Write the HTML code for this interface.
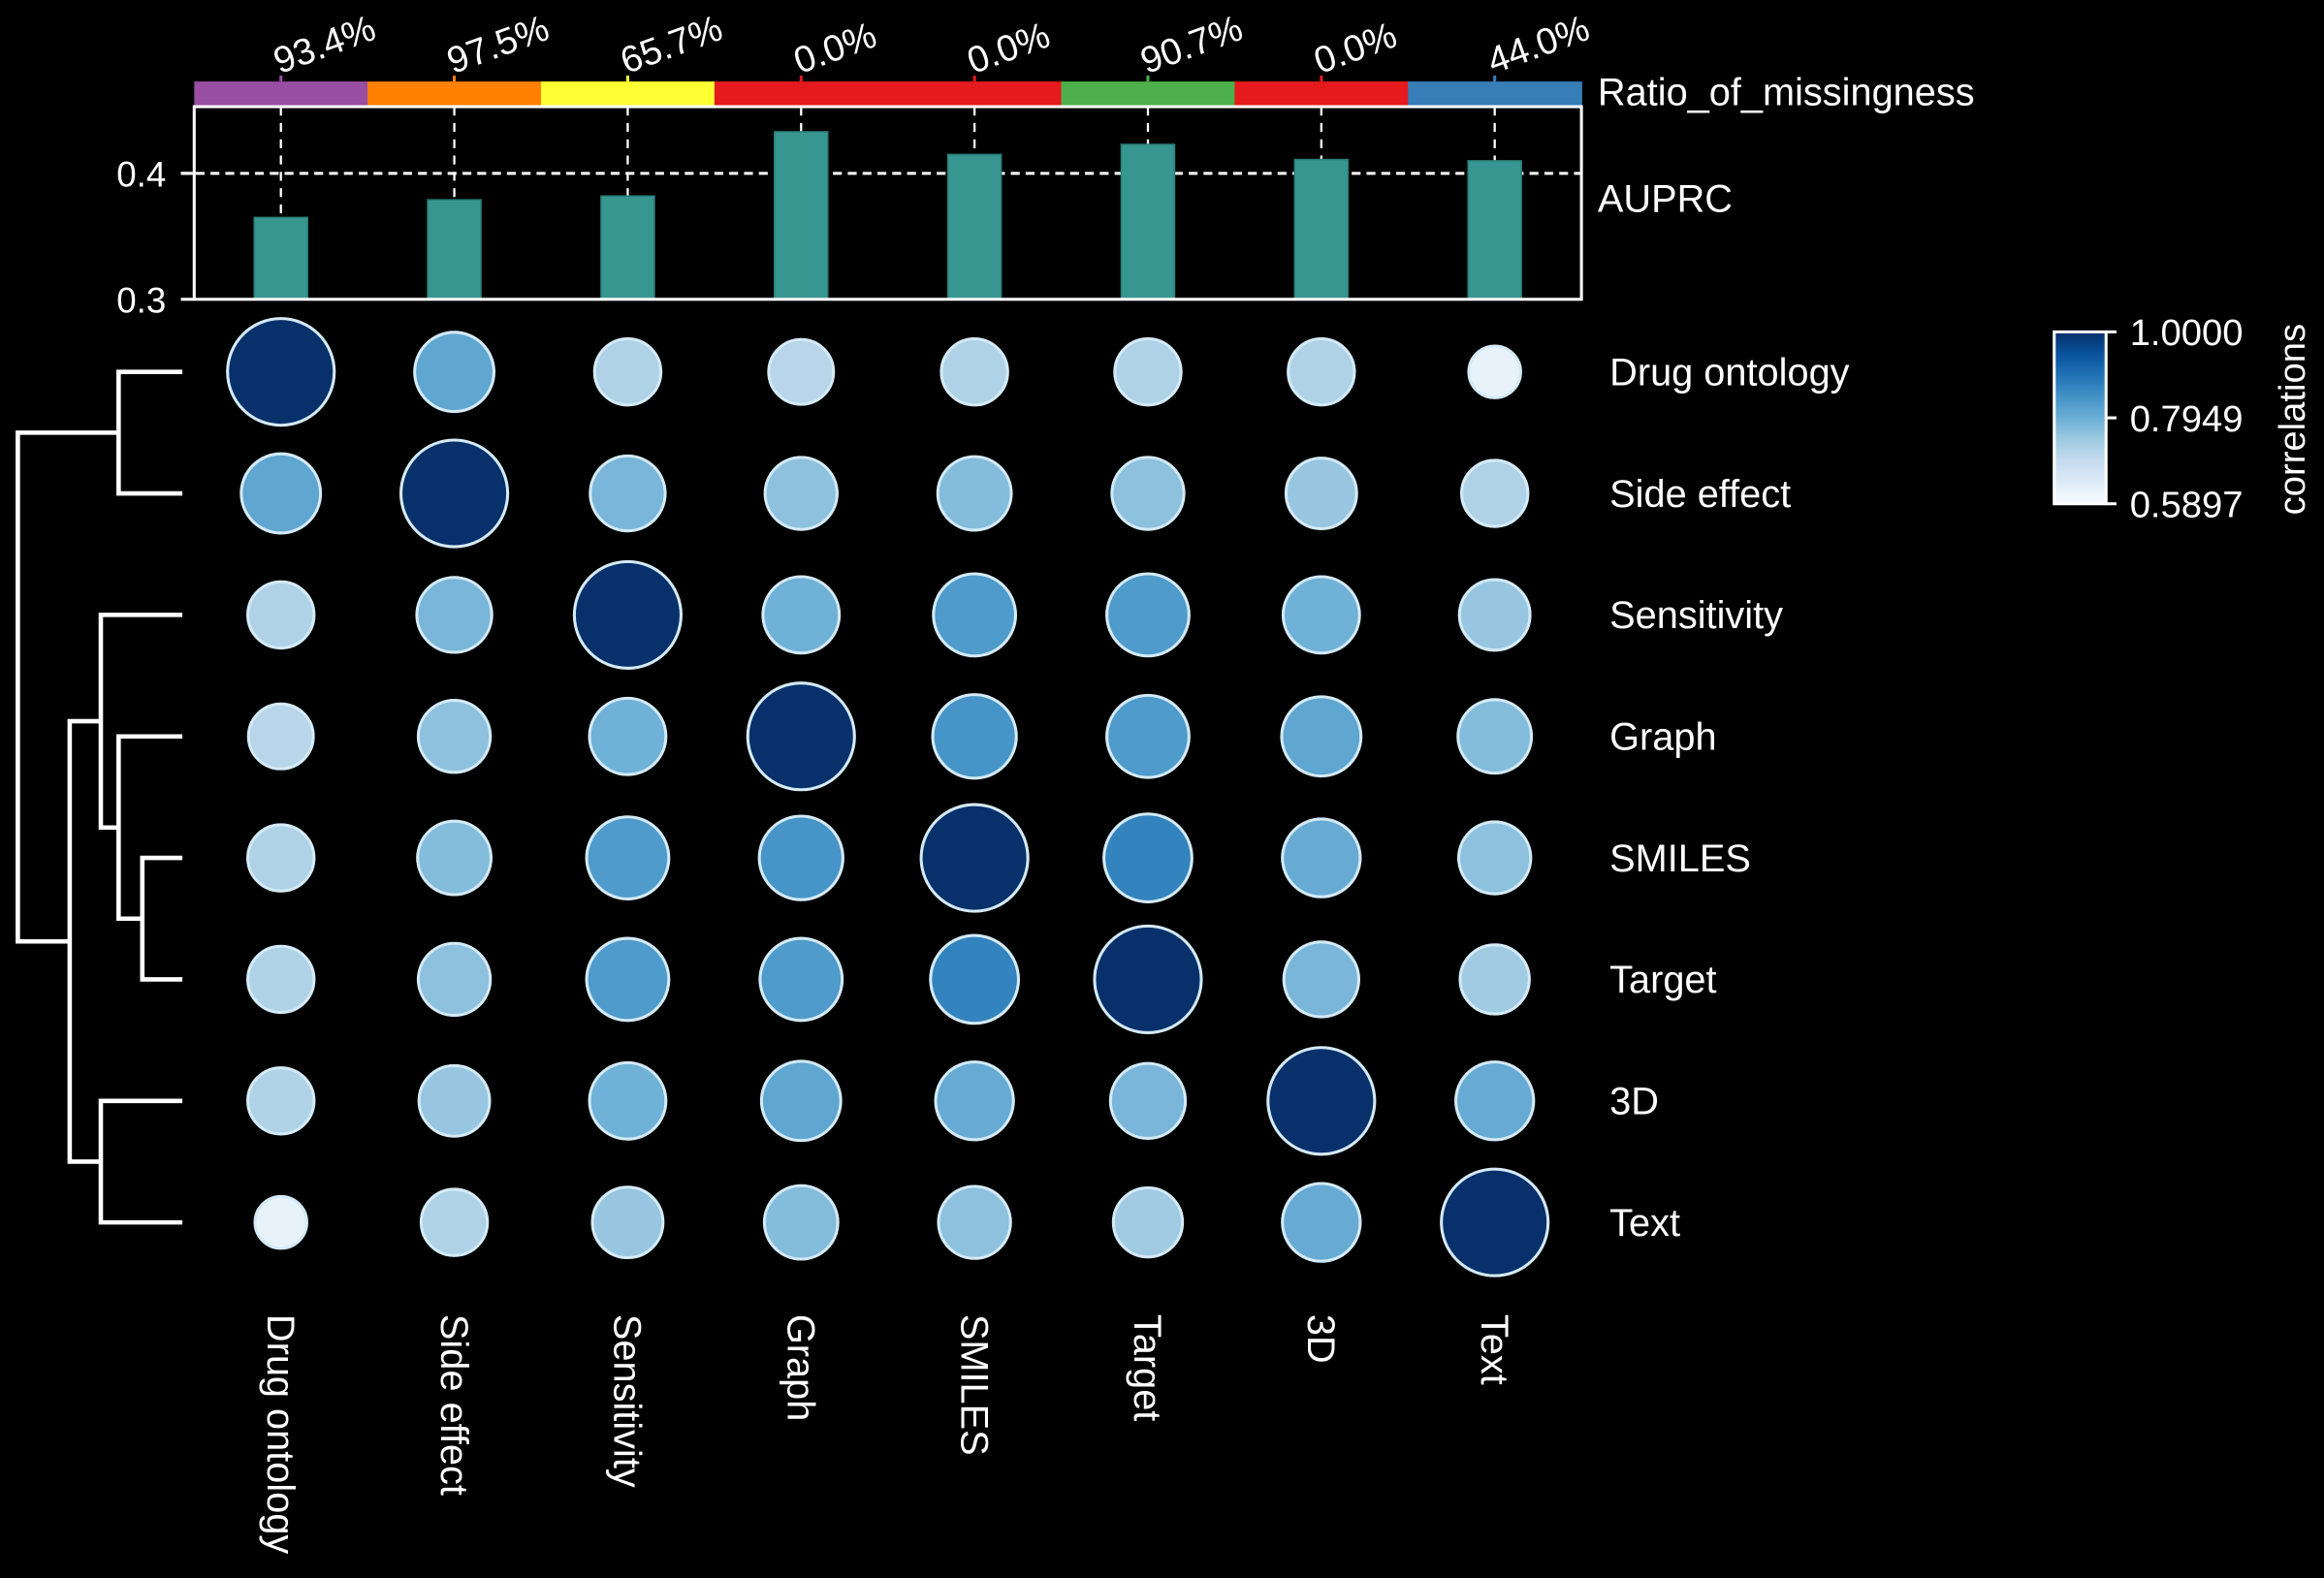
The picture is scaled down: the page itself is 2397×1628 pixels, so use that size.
<!DOCTYPE html>
<html><head><meta charset="utf-8"><style>
html,body{margin:0;padding:0;background:#000;}
svg{display:block;font-family:"Liberation Sans",Arial,sans-serif;}
</style></head><body>
<svg id="chart" width="2397" height="1628" viewBox="0 0 1568 1065" xmlns="http://www.w3.org/2000/svg">
<rect width="1568" height="1065" fill="#000"/>
<g id="dendro" stroke="#fff" stroke-width="3" fill="none"></g>
<g id="topstrip"></g>
<g id="bars"></g>
<g id="dots"></g>
<g id="labels"></g>
<g id="cbar"></g>
</svg>
<script>
const categories = ["Drug ontology","Side effect","Sensitivity","Graph","SMILES","Target","3D","Text"];
const missingness = ["93.4%","97.5%","65.7%","0.0%","0.0%","90.7%","0.0%","44.0%"];
const missColors = ["#984ea3","#ff7f00","#ffff33","#e41a1c","#e41a1c","#4daf4a","#e41a1c","#377eb8"];
const auprc = [0.365,0.379,0.382,0.433,0.415,0.423,0.411,0.410];
const auprcTicks = [0.3,0.4];
const corrDO    = [1.00,0.81,0.72,0.71,0.72,0.72,0.72,0.62];
const corrSE    = [0.81,1.00,0.78,0.76,0.77,0.76,0.75,0.72];
const corrSens  = [0.72,0.78,1.00,0.79,0.83,0.83,0.79,0.75];
const corrGraph = [0.71,0.76,0.79,1.00,0.84,0.83,0.81,0.77];
const corrSMILES= [0.72,0.77,0.83,0.84,1.00,0.87,0.80,0.76];
const corrTarget= [0.72,0.76,0.83,0.83,0.87,1.00,0.78,0.74];
const corr3D    = [0.72,0.75,0.79,0.81,0.80,0.78,1.00,0.80];
const corrText  = [0.62,0.72,0.75,0.77,0.76,0.74,0.80,1.00];
const colorbarTicks = ["1.0000","0.7949","0.5897"];
const cmin = 0.5897, cmax = 1.0;

const NS="http://www.w3.org/2000/svg";
function mk(tag,attrs,parent,text){const e=document.createElementNS(NS,tag);for(const k in attrs)e.setAttribute(k,attrs[k]);if(text!==undefined)e.textContent=text;parent.appendChild(e);return e;}
const X0=131, CW=(1067-131)/8;
const colX=i=>X0+CW*(i+0.5);
const rowY=i=>251+82*i;
const yB=v=>202-(v-0.3)/0.1*85;
const stops=["#f7fbff","#deebf7","#c6dbef","#9ecae1","#6baed6","#4292c6","#2171b5","#08519c","#08306b"];
function hex(h){return [1,3,5].map(i=>parseInt(h.substr(i,2),16));}
function cmap(v){let t=Math.max(0,Math.min(1,(v-cmin)/(cmax-cmin)))*8;let i=Math.min(7,Math.floor(t));let f=t-i;const a=hex(stops[i]),b=hex(stops[i+1]);return "rgb("+a.map((x,k)=>Math.round(x+(b[k]-x)*f)).join(",")+")";}
const rad=v=>16+(v-cmin)/(cmax-cmin)*20;

// top missingness strip
const topG=document.getElementById('topstrip');
categories.forEach((c,i)=>{
  let r=mk('rect',{x:X0+CW*i,y:55,width:CW+0.5,height:17,fill:missColors[i]},topG);
  
  
  mk('line',{x1:colX(i),y1:51,x2:colX(i),y2:55,stroke:missColors[i],'stroke-width':2},topG);
  let t=mk('text',{x:colX(i)-1,y:50,fill:'#fff','font-size':25,transform:`rotate(-20 ${colX(i)-1} 50)`},topG,missingness[i]);
  
  
});
let rt=mk('text',{x:1078,y:71,fill:'#fff','font-size':26},topG,"Ratio_of_missingness");



// bars
const barsG=document.getElementById('bars');
mk('line',{x1:122,y1:117,x2:1067,y2:117,stroke:'#fff','stroke-width':2,'stroke-dasharray':'6,4'},barsG);
auprc.forEach((v,i)=>{
  mk('line',{x1:colX(i),y1:72,x2:colX(i),y2:yB(v),stroke:'#fff','stroke-width':1.5,'stroke-dasharray':'6,5'},barsG);
  let b=mk('rect',{x:colX(i)-18,y:yB(v),width:36,height:202-yB(v),fill:'#379790',stroke:'#2a7d77','stroke-width':1},barsG);
  
  
});
mk('rect',{x:131,y:72,width:936,height:130,fill:'none',stroke:'#fff','stroke-width':2},barsG);
auprcTicks.forEach(v=>{
  mk('line',{x1:122,y1:yB(v),x2:131,y2:yB(v),stroke:'#fff','stroke-width':2},barsG);
  let t=mk('text',{x:112,y:yB(v)+9,fill:'#fff','font-size':24,'text-anchor':'end'},barsG,v.toFixed(1));
  
  
});
let at=mk('text',{x:1078,y:143,fill:'#fff','font-size':26},barsG,"AUPRC");



// dots
const matrix=[corrDO,corrSE,corrSens,corrGraph,corrSMILES,corrTarget,corr3D,corrText];
const dotsG=document.getElementById('dots');
matrix.forEach((row,r)=>row.forEach((v,c)=>{
  let e=mk('circle',{cx:colX(c),cy:rowY(r),r:rad(v),fill:cmap(v),stroke:'#d4eaf6','stroke-width':2},dotsG);
  
  
}));

// labels
const labelsG=document.getElementById('labels');
categories.forEach((c,i)=>{
  let t=mk('text',{x:1086,y:rowY(i)+9,fill:'#fff','font-size':26},labelsG,c);
  
  
  let u=mk('text',{x:colX(i)-9,y:887,fill:'#fff','font-size':26,transform:`rotate(90 ${colX(i)-9} 887)`},labelsG,c);
  
  
});

// dendrogram
const dG=document.getElementById('dendro');
const L=123;
function seg(pts){mk('polyline',{points:pts.map(p=>p.join(',')).join(' ')},dG);}
seg([[L,rowY(0)],[80,rowY(0)],[80,rowY(1)],[L,rowY(1)]]);
seg([[L,rowY(4)],[96,rowY(4)],[96,rowY(5)],[L,rowY(5)]]);
const m45=(rowY(4)+rowY(5))/2;
seg([[L,rowY(3)],[80,rowY(3)],[80,m45],[96,m45]]);
const m345=(rowY(3)+m45)/2;
seg([[L,rowY(2)],[68,rowY(2)],[68,m345],[80,m345]]);
const m2=(rowY(2)+m345)/2;
seg([[L,rowY(6)],[68,rowY(6)],[68,rowY(7)],[L,rowY(7)]]);
const m67=(rowY(6)+rowY(7))/2;
seg([[68,m2],[47,m2],[47,m67],[68,m67]]);
const mB=(m2+m67)/2, m01=(rowY(0)+rowY(1))/2;
seg([[80,m01],[12,m01],[12,mB],[47,mB]]);

// colorbar
const cbG=document.getElementById('cbar');
const defs=mk('defs',{},cbG);
const grad=mk('linearGradient',{id:'bl',x1:0,y1:1,x2:0,y2:0},defs);
stops.forEach((s,i)=>mk('stop',{offset:i/8,'stop-color':s},grad));
mk('rect',{x:1386,y:224,width:35,height:116,fill:'url(#bl)',stroke:'#fff','stroke-width':2},cbG);
colorbarTicks.forEach((t,i)=>{
  const y=224+58*i;
  mk('line',{x1:1421,y1:y,x2:1428,y2:y,stroke:'#fff','stroke-width':2},cbG);
  let e=mk('text',{x:1437,y:y+9,fill:'#fff','font-size':25},cbG,t);
  
  
});
let ct=mk('text',{x:1555,y:283,fill:'#fff','font-size':25,'text-anchor':'middle',transform:'rotate(-90 1555 283)'},cbG,"correlations");


</script>
</body></html>
